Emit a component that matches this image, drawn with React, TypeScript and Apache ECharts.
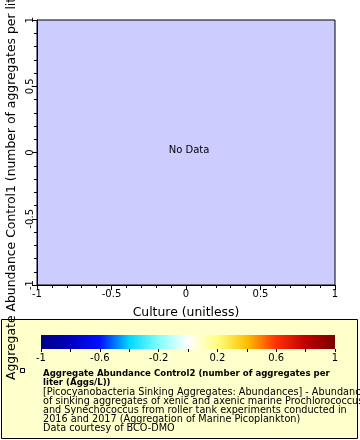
import React, { useEffect, useRef } from "react";
import * as echarts from "echarts";

// Axis settings
const xRange = [-1, 1];
const yRange = [-1, 1];
const axisInterval = 0.5;
const xAxisTitle = "Culture (unitless)";
const yAxisTitle = "Aggregate Abundance Control1 (number of aggregates per liter (Aggs/L))";

// Data (none available)
const xValues: number[] = [];
const yValues: number[] = [];
const colorValues: number[] = [];

// Colour bar
const colorBarRange = [-1, 1];
const colorBarTickStep = 0.2;
const colorBarLabels = [-1, -0.6, -0.2, 0.2, 0.6, 1];
const colorBarStops = [
  { offset: 0, color: "#000080" },
  { offset: 0.1, color: "#0000c0" },
  { offset: 0.2, color: "#0010ff" },
  { offset: 0.3, color: "#00d8ff" },
  { offset: 0.4, color: "#80ffff" },
  { offset: 0.5, color: "#ffffff" },
  { offset: 0.6, color: "#ffff80" },
  { offset: 0.7, color: "#ffc000" },
  { offset: 0.8, color: "#ff3000" },
  { offset: 0.9, color: "#c00000" },
  { offset: 1, color: "#780000" },
];

const legendTitle = [
  "Aggregate Abundance Control2 (number of aggregates per",
  "liter (Aggs/L))",
];
const legendLines = [
  "[Picocyanobacteria Sinking Aggregates: Abundances] - Abundance",
  "of sinking aggregates of xenic and axenic marine Prochlorococcus",
  "and Synechococcus from roller tank experiments conducted in",
  "2016 and 2017 (Aggregation of Marine Picoplankton)",
  "Data courtesy of BCO-DMO",
];

const FONT = "DejaVu Sans";

export default function App() {
  const ref = useRef<HTMLDivElement>(null);
  useEffect(() => {
    if (!ref.current) return;
    const chart = echarts.init(ref.current, null, { renderer: "svg" });
    const points = xValues.map((x, i) => [x, yValues[i], colorValues[i]]);

    const graphics: any[] = [
      {
        type: "rect",
        z: -10,
        shape: { x: 1.5, y: 319.5, width: 356, height: 119 },
        style: { fill: "#ffffcc", stroke: "#000", lineWidth: 1 },
      },
      {
        type: "rect",
        z: 10,
        shape: { x: 20.5, y: 368.5, width: 4, height: 4 },
        style: { fill: "none", stroke: "#000", lineWidth: 1 },
      },
      {
        type: "text",
        z: 10,
        x: 189,
        y: 149,
        style: {
          text: "No Data",
          fill: "#000",
          font: `10px "${FONT}"`,
          align: "center",
          verticalAlign: "middle",
        },
      },
    ];
    legendTitle.forEach((t, i) => {
      graphics.push({
        type: "text",
        z: 10,
        x: 43,
        y: 373 + i * 9.3,
        style: {
          text: t,
          fill: "#000",
          font: `bold 8.6px "${FONT}"`,
          align: "left",
          verticalAlign: "middle",
        },
      });
    });
    legendLines.forEach((t, i) => {
      graphics.push({
        type: "text",
        z: 10,
        x: 43,
        y: 391.5 + i * 8.9,
        style: {
          text: t,
          fill: "#000",
          font: `9.7px "${FONT}"`,
          align: "left",
          verticalAlign: "middle",
        },
      });
    });

    chart.setOption({
      animation: false,
      textStyle: { fontFamily: FONT },
      grid: [
        {
          left: 37,
          right: 25,
          top: 20,
          bottom: 155,
          outerBoundsMode: "none",
          containLabel: false,
          show: true,
          backgroundColor: "#ccccff",
          borderColor: "#000",
          borderWidth: 1,
        },
        {
          left: 41,
          width: 294,
          top: 335,
          height: 14,
          outerBoundsMode: "none",
          containLabel: false,
          show: true,
          borderWidth: 0,
          backgroundColor: {
            type: "linear",
            x: 0,
            y: 0,
            x2: 1,
            y2: 0,
            colorStops: colorBarStops,
          },
        },
      ],
      xAxis: [
        {
          gridIndex: 0,
          type: "value",
          min: xRange[0],
          max: xRange[1],
          interval: axisInterval,
          name: xAxisTitle,
          nameLocation: "middle",
          nameGap: 20,
          nameTextStyle: { color: "#000", fontSize: 12.4, fontFamily: FONT },
          axisLine: { show: true, onZero: false, lineStyle: { color: "#000", width: 1 } },
          axisTick: { show: true, length: 5, lineStyle: { color: "#000" } },
          minorTick: { show: true, splitNumber: 5, length: 3, lineStyle: { color: "#000" } },
          splitLine: { show: false },
          axisLabel: { color: "#000", fontSize: 10, fontFamily: FONT, margin: 3 },
        },
        {
          gridIndex: 1,
          type: "value",
          min: colorBarRange[0],
          max: colorBarRange[1],
          interval: colorBarTickStep,
          axisLine: { show: false, onZero: false },
          axisTick: { show: true, length: 3, lineStyle: { color: "#000" } },
          splitLine: { show: false },
          axisLabel: {
            color: "#000",
            fontSize: 10,
            fontFamily: FONT,
            margin: 3,
            formatter: (v: number) =>
              colorBarLabels.some((l) => Math.abs(l - v) < 1e-6) ? String(Math.round(v * 10) / 10) : "",
          },
        },
      ],
      yAxis: [
        {
          gridIndex: 0,
          type: "value",
          min: yRange[0],
          max: yRange[1],
          interval: axisInterval,
          name: yAxisTitle,
          nameLocation: "middle",
          nameGap: 18,
          nameTextStyle: { color: "#000", fontSize: 12.4, fontFamily: FONT },
          axisLine: { show: true, onZero: false, lineStyle: { color: "#000", width: 1 } },
          axisTick: { show: true, length: 5, lineStyle: { color: "#000" } },
          minorTick: { show: true, splitNumber: 5, length: 3, lineStyle: { color: "#000" } },
          splitLine: { show: false },
          axisLabel: { color: "#000", fontSize: 10, fontFamily: FONT, rotate: 90, margin: 3 },
        },
        {
          gridIndex: 1,
          type: "value",
          min: 0,
          max: 1,
          show: false,
        },
      ],
      graphic: graphics,
      series: [
        {
          type: "scatter",
          xAxisIndex: 0,
          yAxisIndex: 0,
          data: points,
          symbolSize: 5,
        },
      ],
    });
    return () => chart.dispose();
  }, []);
  return (
    <div
      ref={ref}
      style={{ position: "fixed", left: 0, top: 0, width: 360, height: 440 }}
    />
  );
}
